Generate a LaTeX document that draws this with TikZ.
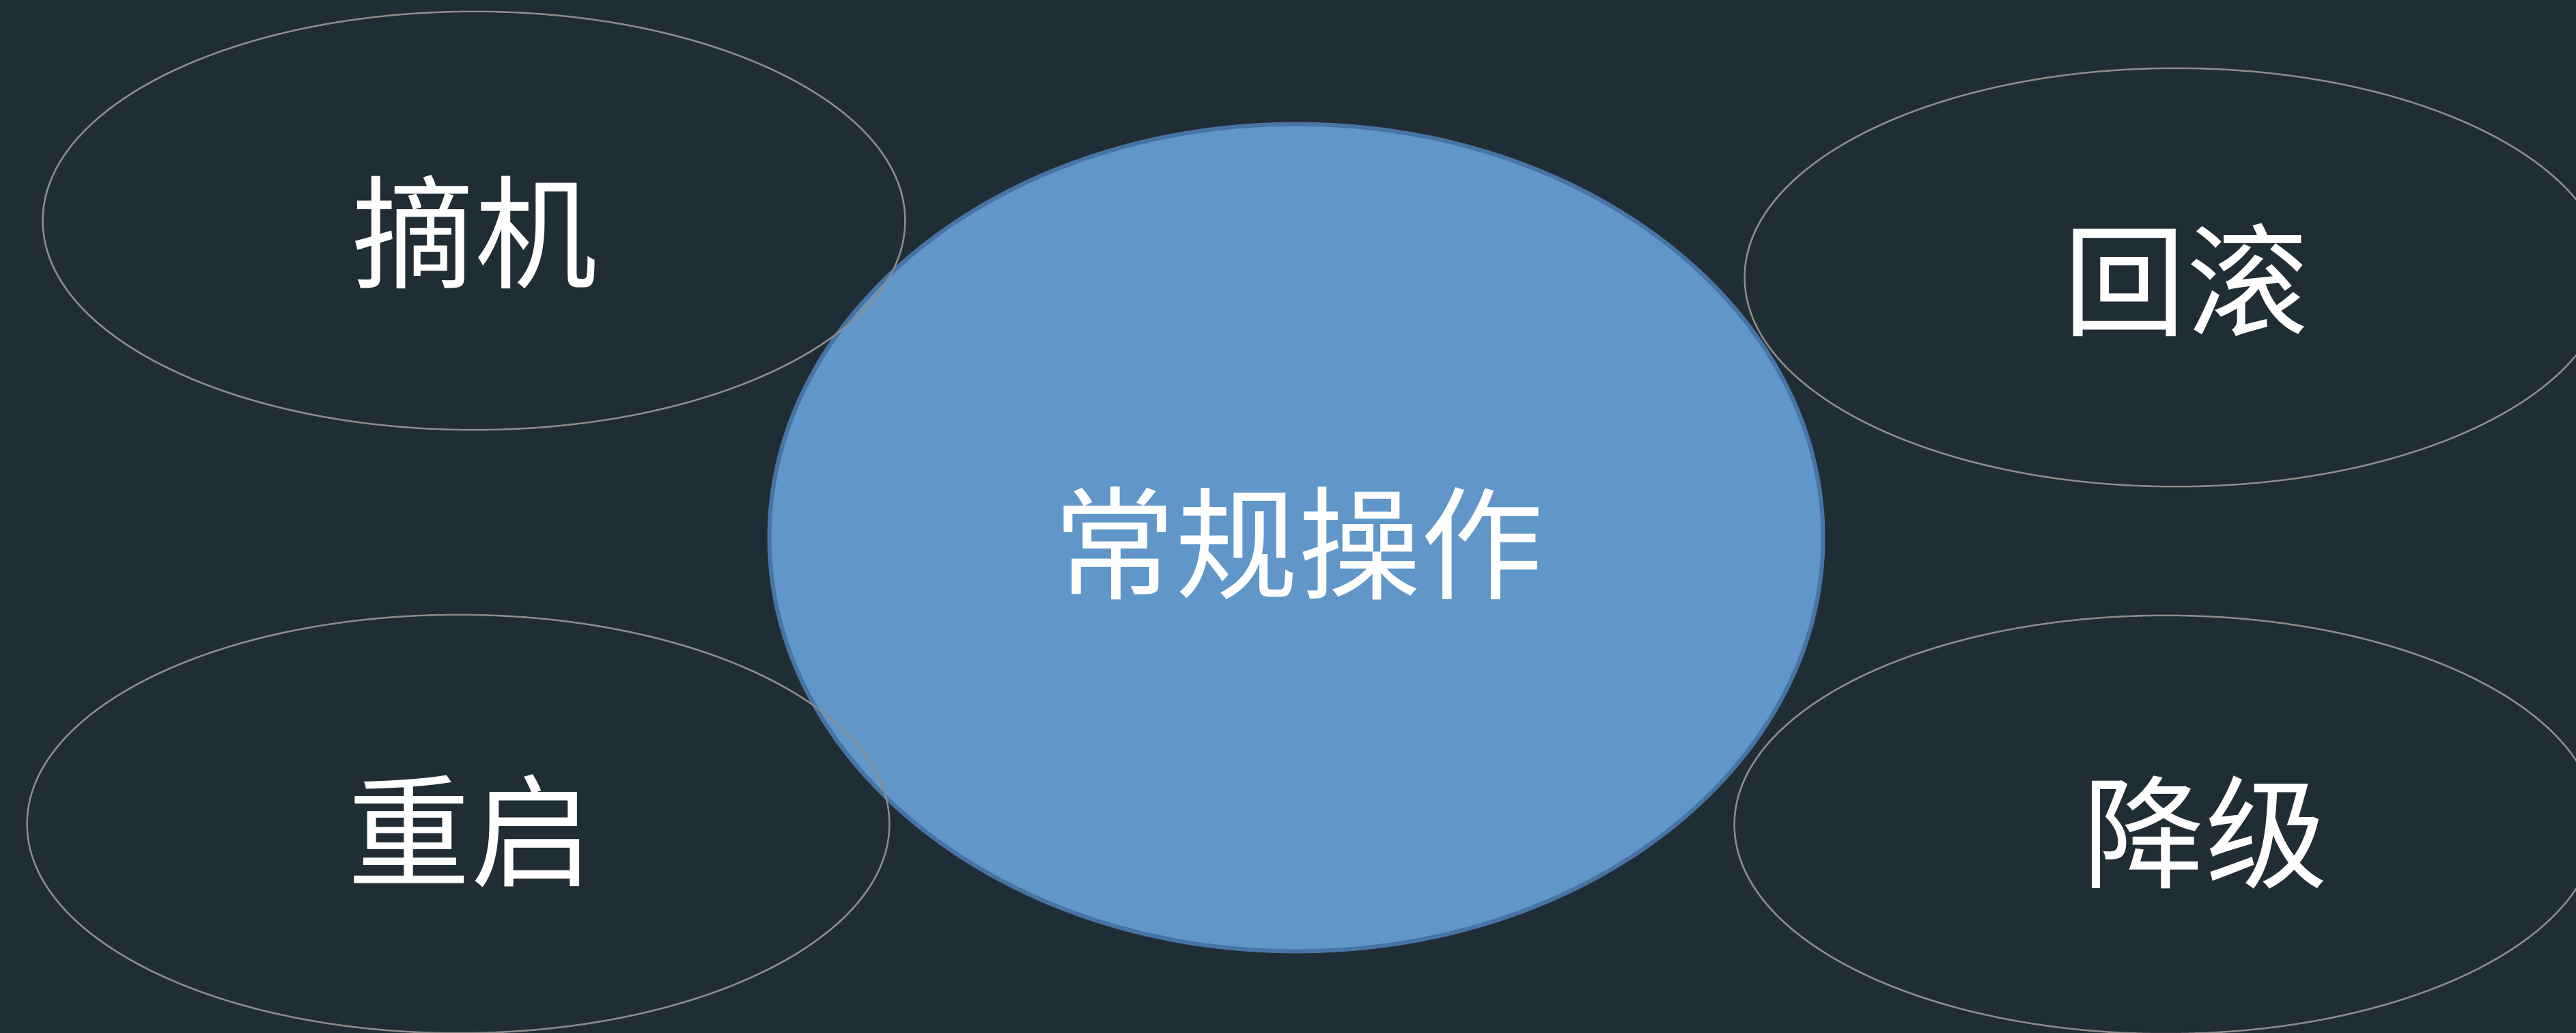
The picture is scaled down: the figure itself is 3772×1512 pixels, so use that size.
\documentclass[tikz,border=0pt]{standalone}
\usepackage{fontspec}
\newfontfamily\cjk{Noto Sans CJK SC}
\usepackage{tikz}
\usetikzlibrary{shapes.geometric}
\definecolor{bgdark}{RGB}{33,45,52}
\definecolor{opblue}{RGB}{97,150,200}
\definecolor{opedge}{RGB}{72,116,165}
\definecolor{ringgray}{RGB}{140,140,140}

\begin{document}
\begin{tikzpicture}[x=0.01cm, y=-0.01cm,
	hub/.style={ellipse, fill=opblue, draw=opedge, line width=0.06cm, minimum width=15.42cm, minimum height=12.1cm, inner sep=0},
	ring/.style={ellipse, draw=ringgray, line width=0.025cm, minimum width=12.62cm, minimum height=6.12cm, inner sep=0},
	lbl/.style={text=white, font=\cjk\fontsize{51}{60}\selectfont, inner sep=0}]

	\fill[bgdark] (0,0) rectangle (3772,1512);
	\useasboundingbox (0,0) rectangle (3772,1512);
	\clip (0,0) rectangle (3772,1512);

	% centre
	\node[hub] (hub) at (1898,787) {};

	% the four around it
	\node[ring] (zhaiji) at (694,323) {};
	\node[ring] (huigun) at (3186,406) {};
	\node[ring] (chongqi) at (671,1206) {};
	\node[ring] (jiangji) at (3171,1207) {};

	\node[lbl] (hub-t) at (1901,795) {常规操作};
	\node[lbl] (zhaiji-t) at (695,340) {摘机};
	\node[lbl] (huigun-t) at (3201,410) {回滚};
	\node[lbl] (chongqi-t) at (689,1216) {重启};
	\node[lbl] (jiangji-t) at (3229,1218) {降级};

\end{tikzpicture}
\end{document}
